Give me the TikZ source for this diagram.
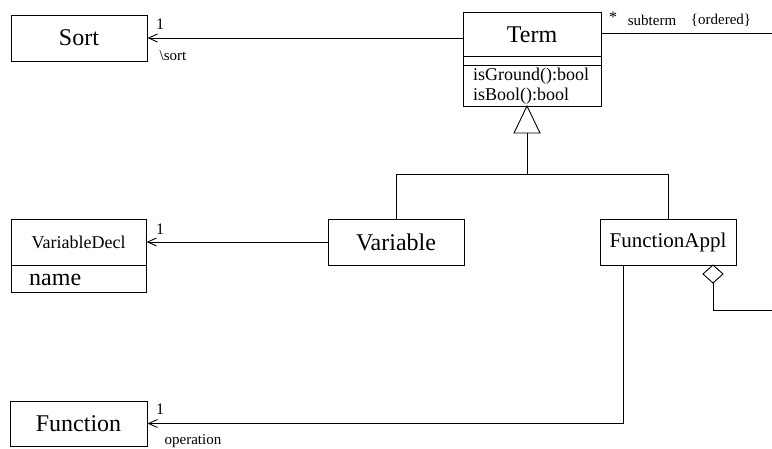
\documentclass[tikz,border=0pt]{standalone}
\usepackage{fontspec}
\setmainfont{Liberation Serif}
\usetikzlibrary{arrows.meta}
\begin{document}
\begin{tikzpicture}[x=1pt,y=-1pt,
  cls/.style={draw,line width=0.9pt,rectangle,inner sep=0pt,anchor=center},
  conn/.style={line width=0.9pt},
  nav/.style={conn,-{Straight Barb[length=9pt,width=8pt,line width=0.9pt]}},
  lbl/.style={inner sep=0pt,font=\fontsize{15}{17}\selectfont},
  mult/.style={inner sep=0pt,font=\fontsize{16}{18}\selectfont}]
\useasboundingbox (0,0) rectangle (772,449);
% classes
\node[cls,minimum width=136pt,minimum height=46pt,font=\fontsize{24}{26}\selectfont] (sort) at (79,38) {Sort};
\node[cls,minimum width=138pt,minimum height=94pt] (term) at (532,59) {};
\node[font=\fontsize{24}{26}\selectfont,inner sep=0pt] (termname) at (532,35) {Term};
\draw[conn] (463,56) -- (601,56);
\draw[conn] (463,65) -- (601,65);
\node[anchor=north west,inner sep=0pt,align=left,font=\fontsize{18}{20}\selectfont] (termops) at (473,68) {isGround():bool\\isBool():bool};
\node[cls,minimum width=135pt,minimum height=73pt] (vdecl) at (78.5,255.5) {};
\node[font=\fontsize{18}{20}\selectfont,inner sep=0pt] (vdname) at (78.5,242) {VariableDecl};
\draw[conn] (11,265) -- (146,265);
\node[anchor=west,font=\fontsize{24}{26}\selectfont,inner sep=0pt] (vdattr) at (29,280) {name};
\node[cls,minimum width=136pt,minimum height=46pt,font=\fontsize{24}{26}\selectfont] (variable) at (396,242) {Variable};
\node[cls,minimum width=136pt,minimum height=46pt,font=\fontsize{21}{23}\selectfont] (fappl) at (668,242) {FunctionAppl};
\node[cls,minimum width=137pt,minimum height=45pt,font=\fontsize{24}{26}\selectfont] (function) at (78.5,423.5) {Function};
% association Term -> Sort
\draw[nav] (sort.east -| term.west) -- (sort.east);
\node[mult] (m1) at (160,24) {1};
\node[lbl] (rsort) at (173,56) {\textbackslash sort};
% subterm
\coordinate (subR) at (772,33);
\draw[conn] (term.east |- subR) -- (subR);
\node[mult] (mstar) at (613,17) {*};
\node[lbl] (subt) at (652,20) {subterm};
\node[lbl] (ord) at (721,20) {\{ordered\}};
% generalization
\coordinate (apex) at (527,106);
\coordinate (tb) at (527,133);
\coordinate (hb) at (527,174);
\draw[conn,line join=miter] (apex) -- (514,133) -- (540,133) -- cycle;
\draw[conn] (tb) -- (hb);
\draw[conn] (variable.north) -- (variable.north |- hb) -- (fappl.north |- hb) -- (fappl.north);
% Variable -> VariableDecl
\draw[nav] (variable.west) -- (vdecl.east |- variable.west);
\node[mult] (m2) at (160,229) {1};
% FunctionAppl -> Function
\coordinate (fa) at (623,265);
\coordinate (fc) at (623,423.5);
\draw[nav] (fa) -- (fc) -- (function.east);
\node[mult] (m3) at (160,409) {1};
\node[lbl] (op) at (193,441) {operation};
% aggregation diamond
\coordinate (dtop) at (713,265);
\coordinate (dbot) at (713,283);
\draw[conn,line join=miter] (dtop) -- (723,274) -- (dbot) -- (703,274) -- cycle;
\coordinate (aggR) at (772,310);
\draw[conn] (dbot) -- (dbot |- aggR) -- (aggR);
\end{tikzpicture}
\end{document}
